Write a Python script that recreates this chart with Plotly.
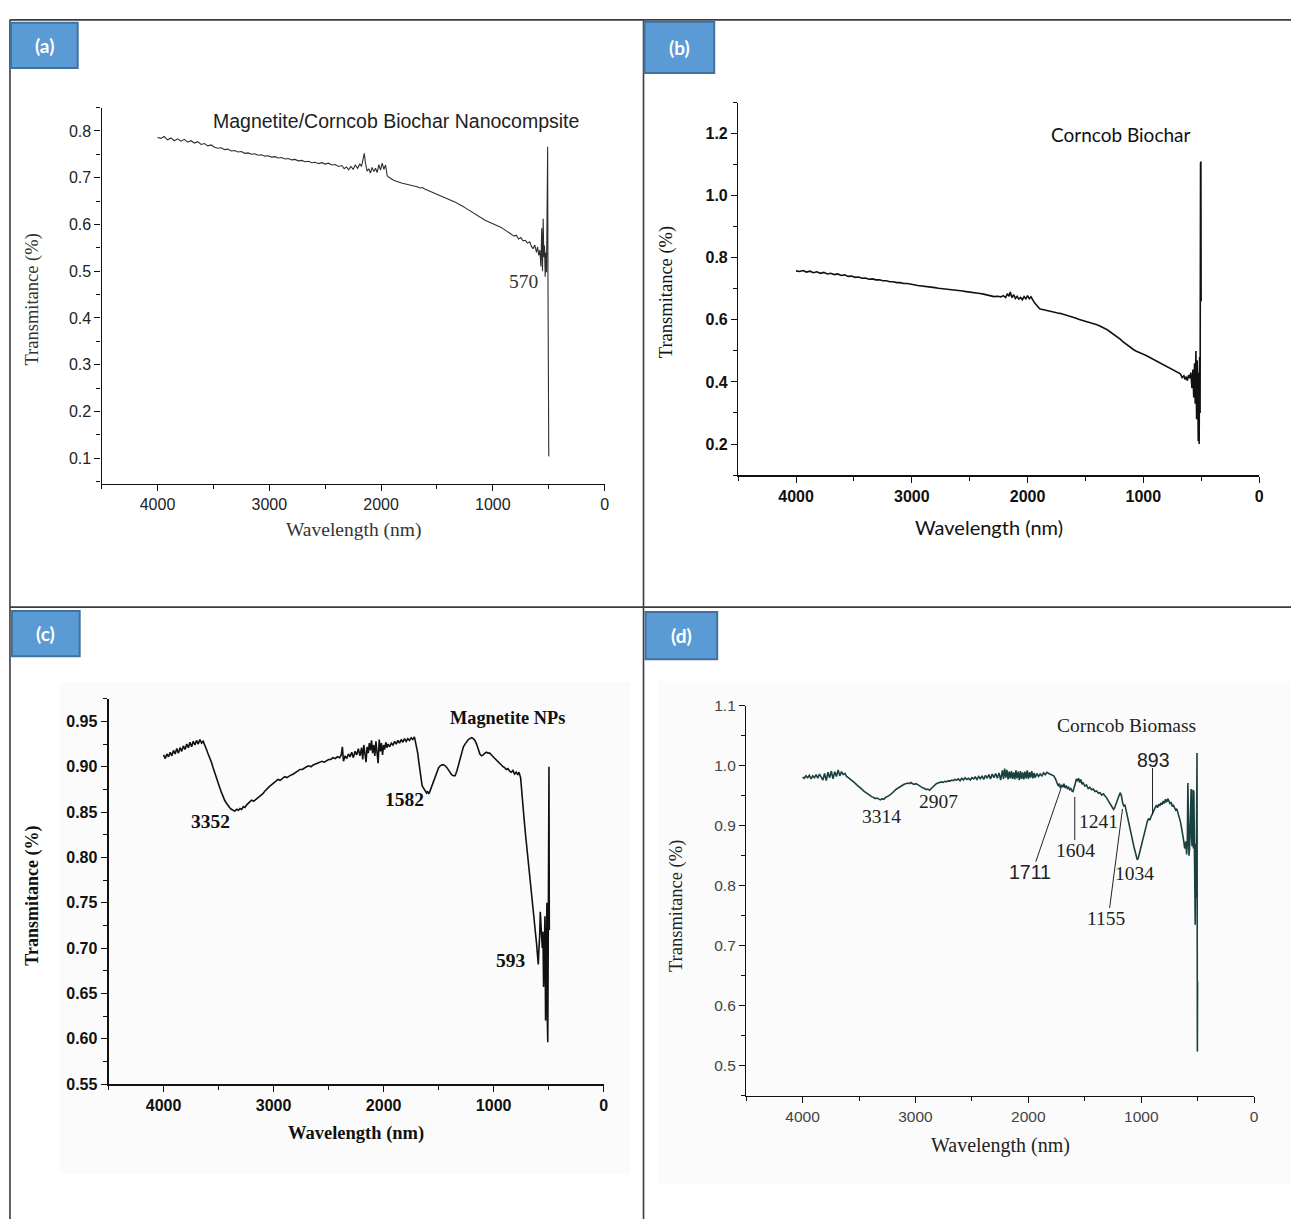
import plotly.graph_objects as go

W, H = 1296, 1228

# ---------------- data ----------------
A_WAVE = [4000,3970,3940,3910,3880,3850,3820,3790,3760,3730,3700,3670,3640,3610,3580,3550,3520,3490,3460,3430,3400,3370,3340,3310,3280,3250,3220,3190,3160,3130,3100,3070,3040,3010,2980,2950,2920,2890,2860,2830,2800,2770,2740,2710,2680,2650,2620,2590,2560,2530,2500,2470,2440,2410,2380,2350,2330,2310,2290,2270,2250,2230,2210,2190,2175,2160,2150,2140,2125,2110,2095,2080,2065,2050,2035,2020,2005,1990,1975,1960,1945,1930,1910,1890,1870,1850,1830,1810,1790,1770,1750,1730,1710,1690,1670,1650,1630,1610,1590,1570,1550,1530,1510,1490,1470,1450,1430,1410,1390,1370,1350,1330,1310,1290,1270,1250,1230,1210,1190,1170,1150,1130,1110,1090,1070,1050,1030,1010,990,970,950,930,910,890,870,850,830,810,790,770,750,730,710,690,670,655,640,625,610,600,590,580,570,563,556,550,544,538,532,526,520,515,510,507,504,500,496]
A_TRANS = [0.786,0.784,0.788,0.781,0.785,0.779,0.783,0.778,0.782,0.776,0.779,0.774,0.777,0.771,0.773,0.768,0.770,0.765,0.763,0.764,0.760,0.761,0.757,0.758,0.755,0.756,0.752,0.753,0.750,0.751,0.748,0.749,0.746,0.747,0.744,0.745,0.742,0.743,0.740,0.741,0.738,0.739,0.736,0.737,0.734,0.735,0.732,0.733,0.730,0.732,0.729,0.731,0.727,0.728,0.724,0.726,0.719,0.723,0.717,0.724,0.718,0.727,0.720,0.729,0.724,0.740,0.752,0.731,0.714,0.719,0.710,0.722,0.713,0.720,0.711,0.728,0.716,0.731,0.718,0.727,0.704,0.701,0.697,0.695,0.693,0.691,0.690,0.688,0.687,0.686,0.684,0.683,0.682,0.681,0.680,0.678,0.679,0.676,0.674,0.672,0.669,0.667,0.665,0.663,0.662,0.660,0.658,0.656,0.654,0.652,0.649,0.647,0.644,0.642,0.639,0.636,0.633,0.630,0.627,0.624,0.621,0.618,0.614,0.611,0.609,0.607,0.605,0.603,0.601,0.599,0.596,0.594,0.591,0.588,0.585,0.582,0.578,0.575,0.577,0.569,0.572,0.565,0.566,0.560,0.563,0.553,0.548,0.556,0.540,0.552,0.534,0.545,0.510,0.592,0.500,0.612,0.530,0.555,0.488,0.540,0.498,0.690,0.766,0.480,0.385,0.104,0.106]

B_WAVE = [4000,3970,3940,3910,3880,3850,3820,3790,3760,3730,3700,3670,3640,3610,3580,3550,3520,3490,3460,3430,3400,3370,3340,3310,3280,3250,3220,3190,3160,3130,3100,3070,3040,3010,2980,2950,2920,2890,2860,2830,2800,2770,2740,2710,2680,2650,2620,2590,2560,2530,2500,2470,2440,2410,2380,2350,2320,2290,2260,2230,2210,2190,2175,2160,2150,2135,2120,2105,2090,2075,2060,2045,2030,2015,2000,1985,1970,1955,1940,1925,1910,1895,1880,1860,1840,1820,1800,1780,1760,1740,1720,1700,1680,1660,1640,1620,1600,1580,1560,1540,1520,1500,1480,1460,1440,1420,1400,1380,1360,1340,1320,1300,1280,1260,1240,1220,1200,1180,1160,1140,1120,1100,1080,1060,1040,1020,1000,980,960,940,920,900,880,860,840,820,800,780,760,740,720,700,680,665,650,640,630,620,610,600,590,580,572,565,558,552,546,540,535,530,526,522,518,514,510,506,503,501,500]
B_TRANS = [0.758,0.756,0.759,0.754,0.757,0.752,0.755,0.750,0.753,0.748,0.750,0.746,0.748,0.743,0.745,0.740,0.741,0.737,0.738,0.734,0.735,0.731,0.732,0.729,0.729,0.726,0.726,0.723,0.723,0.720,0.720,0.717,0.717,0.714,0.713,0.711,0.710,0.708,0.707,0.705,0.704,0.702,0.701,0.699,0.698,0.697,0.695,0.694,0.693,0.691,0.690,0.688,0.687,0.685,0.683,0.680,0.676,0.675,0.676,0.674,0.678,0.672,0.684,0.676,0.690,0.672,0.681,0.669,0.676,0.667,0.672,0.665,0.675,0.668,0.678,0.668,0.674,0.662,0.655,0.649,0.641,0.636,0.634,0.632,0.630,0.629,0.627,0.625,0.624,0.622,0.621,0.619,0.617,0.614,0.613,0.611,0.608,0.605,0.602,0.600,0.598,0.596,0.594,0.592,0.589,0.587,0.584,0.581,0.578,0.574,0.570,0.565,0.560,0.555,0.550,0.544,0.538,0.531,0.525,0.519,0.513,0.508,0.503,0.499,0.495,0.492,0.489,0.486,0.482,0.478,0.474,0.470,0.466,0.462,0.458,0.454,0.450,0.446,0.443,0.439,0.436,0.432,0.426,0.414,0.420,0.408,0.417,0.404,0.422,0.412,0.430,0.380,0.440,0.350,0.460,0.330,0.500,0.280,0.470,0.380,0.210,0.430,0.200,0.480,0.300,1.105,1.110,0.660,0.670]

C_WAVE = [4000,3985,3970,3955,3940,3925,3910,3895,3880,3865,3850,3835,3820,3805,3790,3775,3760,3745,3730,3715,3700,3685,3670,3655,3640,3625,3610,3595,3580,3565,3550,3535,3520,3505,3490,3475,3460,3445,3430,3415,3400,3385,3370,3352,3335,3320,3305,3290,3275,3260,3245,3230,3215,3200,3180,3160,3140,3120,3100,3080,3060,3040,3020,3000,2980,2960,2940,2920,2900,2880,2860,2840,2820,2800,2780,2760,2740,2720,2700,2680,2660,2640,2620,2600,2580,2560,2540,2520,2500,2480,2460,2440,2420,2400,2385,2375,2365,2350,2335,2320,2305,2290,2275,2260,2245,2230,2215,2200,2190,2180,2170,2160,2150,2140,2130,2120,2110,2100,2090,2080,2070,2060,2050,2040,2030,2020,2010,2000,1990,1980,1970,1960,1945,1930,1915,1900,1885,1870,1855,1840,1825,1810,1795,1780,1765,1750,1735,1720,1710,1700,1690,1680,1670,1660,1650,1640,1630,1620,1610,1600,1590,1582,1570,1560,1545,1530,1515,1500,1485,1470,1455,1440,1425,1410,1395,1380,1365,1350,1335,1320,1305,1290,1275,1260,1245,1230,1215,1200,1185,1170,1155,1140,1125,1110,1095,1080,1065,1050,1035,1020,1005,990,975,960,945,930,915,900,885,870,855,840,825,810,795,780,770,755,740,725,710,695,680,665,650,635,620,610,600,594,588,582,576,570,564,558,552,546,540,534,528,522,516,512,508,504,500,497,494]
C_TRANS = [0.913,0.909,0.914,0.911,0.916,0.912,0.918,0.914,0.920,0.915,0.921,0.917,0.923,0.919,0.925,0.921,0.927,0.922,0.928,0.924,0.929,0.925,0.930,0.926,0.928,0.924,0.919,0.914,0.910,0.905,0.899,0.893,0.887,0.882,0.877,0.872,0.867,0.863,0.860,0.857,0.855,0.853,0.852,0.851,0.853,0.852,0.854,0.853,0.856,0.855,0.858,0.860,0.862,0.863,0.862,0.864,0.866,0.867,0.870,0.873,0.876,0.878,0.880,0.882,0.883,0.886,0.885,0.887,0.889,0.888,0.890,0.891,0.892,0.894,0.895,0.897,0.897,0.899,0.900,0.901,0.900,0.902,0.903,0.904,0.905,0.906,0.905,0.907,0.908,0.908,0.910,0.909,0.911,0.910,0.913,0.922,0.906,0.912,0.909,0.914,0.911,0.916,0.910,0.917,0.913,0.920,0.912,0.921,0.908,0.924,0.916,0.905,0.922,0.915,0.926,0.918,0.929,0.915,0.924,0.912,0.928,0.918,0.904,0.930,0.917,0.926,0.913,0.924,0.919,0.927,0.921,0.925,0.922,0.926,0.924,0.928,0.925,0.929,0.926,0.930,0.927,0.931,0.928,0.931,0.929,0.932,0.930,0.933,0.928,0.923,0.915,0.905,0.894,0.885,0.879,0.877,0.875,0.873,0.871,0.873,0.870,0.872,0.876,0.880,0.885,0.890,0.895,0.899,0.901,0.902,0.902,0.901,0.899,0.896,0.893,0.891,0.890,0.890,0.895,0.902,0.910,0.917,0.922,0.925,0.928,0.930,0.931,0.932,0.931,0.929,0.925,0.920,0.914,0.912,0.913,0.915,0.916,0.915,0.915,0.913,0.911,0.910,0.908,0.905,0.903,0.902,0.900,0.899,0.897,0.898,0.895,0.894,0.896,0.892,0.894,0.891,0.894,0.888,0.870,0.845,0.825,0.807,0.790,0.775,0.760,0.740,0.720,0.705,0.690,0.682,0.700,0.712,0.740,0.725,0.712,0.700,0.718,0.657,0.690,0.735,0.620,0.700,0.750,0.620,0.596,0.700,0.760,0.900,0.720]

D_WAVE = [4000,3985,3970,3955,3940,3925,3910,3895,3880,3865,3850,3835,3820,3805,3790,3775,3760,3745,3730,3715,3700,3685,3670,3655,3640,3625,3610,3595,3580,3565,3550,3535,3520,3505,3490,3475,3460,3445,3430,3415,3400,3385,3370,3355,3340,3325,3310,3295,3280,3265,3250,3235,3220,3205,3190,3175,3160,3145,3130,3115,3100,3085,3070,3055,3040,3025,3010,2995,2980,2965,2950,2935,2920,2905,2890,2875,2860,2845,2830,2815,2800,2785,2770,2755,2740,2725,2710,2695,2680,2665,2650,2635,2620,2605,2590,2575,2560,2545,2530,2515,2500,2485,2470,2455,2440,2425,2410,2395,2380,2365,2350,2335,2320,2305,2290,2275,2260,2245,2230,2220,2210,2200,2190,2180,2170,2160,2150,2140,2130,2120,2110,2100,2090,2080,2070,2060,2050,2040,2030,2020,2010,2000,1990,1980,1970,1960,1950,1940,1925,1910,1895,1880,1865,1850,1835,1820,1805,1790,1775,1760,1745,1735,1725,1715,1705,1695,1685,1675,1665,1655,1645,1635,1625,1615,1605,1595,1585,1575,1565,1555,1545,1535,1525,1515,1500,1485,1470,1455,1440,1425,1410,1395,1380,1365,1350,1335,1320,1305,1290,1275,1260,1245,1235,1225,1215,1205,1195,1185,1175,1165,1155,1145,1135,1125,1115,1105,1095,1085,1075,1065,1055,1045,1035,1025,1015,1005,995,985,975,965,955,945,935,925,915,905,895,885,875,865,855,845,835,825,815,805,795,785,775,765,755,745,735,725,715,705,695,685,675,665,655,645,635,625,615,605,598,592,587,582,577,572,567,562,558,554,550,546,542,538,534,530,526,522,518,514,510,506,503,501]
D_TRANS = [0.981,0.979,0.983,0.980,0.984,0.978,0.983,0.980,0.985,0.979,0.986,0.982,0.976,0.987,0.975,0.989,0.980,0.991,0.978,0.990,0.982,0.993,0.983,0.990,0.985,0.987,0.982,0.980,0.978,0.976,0.973,0.971,0.968,0.966,0.963,0.961,0.958,0.956,0.953,0.951,0.949,0.948,0.947,0.945,0.946,0.944,0.943,0.945,0.944,0.947,0.948,0.950,0.952,0.955,0.957,0.960,0.962,0.964,0.966,0.967,0.969,0.970,0.971,0.970,0.972,0.970,0.969,0.970,0.968,0.966,0.965,0.963,0.962,0.960,0.961,0.959,0.962,0.965,0.968,0.970,0.971,0.972,0.973,0.972,0.974,0.973,0.975,0.974,0.976,0.975,0.977,0.976,0.978,0.975,0.979,0.976,0.980,0.977,0.979,0.976,0.980,0.978,0.981,0.977,0.982,0.978,0.983,0.977,0.984,0.979,0.985,0.978,0.986,0.980,0.987,0.979,0.988,0.976,0.992,0.978,0.995,0.980,0.993,0.977,0.990,0.979,0.991,0.978,0.989,0.977,0.992,0.979,0.990,0.976,0.991,0.978,0.989,0.977,0.990,0.979,0.992,0.978,0.989,0.980,0.991,0.979,0.988,0.980,0.987,0.982,0.986,0.983,0.988,0.985,0.989,0.987,0.986,0.984,0.983,0.978,0.972,0.966,0.970,0.962,0.968,0.964,0.970,0.963,0.967,0.962,0.964,0.960,0.962,0.958,0.957,0.962,0.970,0.978,0.974,0.979,0.972,0.977,0.969,0.972,0.966,0.968,0.962,0.964,0.960,0.961,0.957,0.958,0.954,0.955,0.951,0.953,0.950,0.946,0.941,0.936,0.931,0.927,0.930,0.936,0.942,0.947,0.951,0.955,0.949,0.938,0.933,0.935,0.927,0.918,0.910,0.901,0.892,0.883,0.874,0.865,0.856,0.848,0.843,0.847,0.855,0.862,0.870,0.878,0.887,0.896,0.903,0.908,0.912,0.909,0.914,0.919,0.922,0.927,0.931,0.934,0.930,0.936,0.933,0.938,0.935,0.941,0.937,0.944,0.939,0.945,0.940,0.937,0.939,0.932,0.934,0.929,0.926,0.928,0.922,0.916,0.908,0.899,0.890,0.876,0.862,0.874,0.852,0.870,0.971,0.880,0.850,0.862,0.905,0.955,0.961,0.880,0.866,0.870,0.960,0.862,0.958,0.850,0.790,0.735,0.870,0.780,0.900,1.021,0.524,0.640]

PANEL_LETTERS = ["(a)", "(b)", "(c)", "(d)"]
PANEL_NAMES = ["Magnetite/Corncob Biochar Nanocompsite", "Corncob Biochar", "Magnetite NPs", "Corncob Biomass"]
C_PEAKS = ["3352", "1582", "593"]
D_PEAKS = ["3314", "2907", "1711", "1604", "1241", "1155", "1034", "893"]
X_TITLE = "Wavelength (nm)"
Y_TITLE = "Transmitance (%)"

for xs, ys in [(A_WAVE, A_TRANS), (B_WAVE, B_TRANS), (C_WAVE, C_TRANS), (D_WAVE, D_TRANS)]:
    assert len(xs) == len(ys), (len(xs), len(ys))

# ---------------- helpers ----------------
def PX(x):
    return x / W

def PY(y):
    return 1 - y / H

SANS = "Liberation Sans, Arial, sans-serif"
SERIF = "Liberation Serif, Times New Roman, serif"
CAL = "Lato, Open Sans, sans-serif"

fig = go.Figure()
series = [
    (A_WAVE, A_TRANS, "x", "y", "#2e2e2e", 1.1),
    (B_WAVE, B_TRANS, "x2", "y2", "#111111", 1.6),
    (C_WAVE, C_TRANS, "x3", "y3", "#111111", 1.6),
    (D_WAVE, D_TRANS, "x4", "y4", "#1a4040", 1.6),
]
for xs, ys, xa, ya, col, lw in series:
    fig.add_trace(go.Scatter(x=xs, y=ys, mode="lines", line=dict(color=col, width=lw),
                             xaxis=xa, yaxis=ya, showlegend=False, hoverinfo="skip"))


def xax(px0, px1, anchor, tickfont, lw=1.4):
    return dict(domain=[PX(px0), PX(px1)], anchor=anchor, range=[4500, 0], autorange=False,
                tickmode="linear", tick0=0, dtick=1000, ticks="outside", ticklen=6, tickwidth=1.3,
                tickcolor="#111", showline=True, linecolor="#111", linewidth=lw, showgrid=False,
                zeroline=False, tickfont=tickfont,
                minor=dict(ticks="outside", ticklen=4, tickwidth=1.1, tickcolor="#111",
                           tick0=0, dtick=500, showgrid=False))


def yax(py_top, py_bot, anchor, rng, dtick, tick0, fmt, mdt, tickfont, lw=1.4):
    return dict(domain=[PY(py_bot), PY(py_top)], anchor=anchor, range=rng, autorange=False,
                tickmode="linear", tick0=tick0, dtick=dtick, tickformat=fmt, ticks="outside",
                ticklen=6, tickwidth=1.3, tickcolor="#111", showline=True, linecolor="#111",
                linewidth=lw, showgrid=False, zeroline=False, tickfont=tickfont,
                minor=dict(ticks="outside", ticklen=4, tickwidth=1.1, tickcolor="#111",
                           tick0=tick0, dtick=mdt, showgrid=False))


tf_a = dict(family=SANS, size=16, color="#222")
tf_b = dict(family=SANS, size=16, color="#111", weight="bold")
tf_c = dict(family=SANS, size=16, color="#111", weight="bold")
tf_d = dict(family=SANS, size=15.5, color="#444")

layout = dict(
    width=W, height=H, margin=dict(l=0, r=0, t=0, b=0),
    paper_bgcolor="white", plot_bgcolor="rgba(0,0,0,0)", showlegend=False,
    xaxis=xax(102, 607, "y", tf_a),
    yaxis=yax(100, 482, "x", [0.045, 0.85], 0.1, 0.1, ".1f", 0.05, tf_a),
    xaxis2=xax(741, 1264, "y2", tf_b, lw=2.2),
    yaxis2=yax(95, 473, "x2", [0.1, 1.3], 0.2, 0.2, ".1f", 0.1, tf_b),
    xaxis3=xax(109, 606, "y3", tf_c, lw=2.0),
    yaxis3=yax(700, 1091, "x3", [0.55, 0.975], 0.05, 0.55, ".2f", 0.025, tf_c, lw=2.0),
    xaxis4=xax(749, 1259, "y4", tf_d),
    yaxis4=yax(707, 1103, "x4", [0.45, 1.1], 0.1, 0.5, ".1f", 0.05, tf_d),
)

shapes = []
# very faint backdrops of the scanned figures (c) and (d)
for x0, y0, x1, y1 in [(60, 683, 633, 1182), (660, 682, 1296, 1193)]:
    shapes.append(dict(type="rect", xref="paper", yref="paper", x0=PX(x0), x1=PX(x1),
                       y0=PY(y1), y1=PY(y0), fillcolor="#fbfbfb", line=dict(width=0), layer="below"))
# table borders
border = dict(color="#3c3c3c", width=1.6)
shapes += [
    dict(type="line", xref="paper", yref="paper", x0=PX(10), x1=1, y0=PY(11), y1=PY(11), line=border),
    dict(type="line", xref="paper", yref="paper", x0=PX(10), x1=1, y0=PY(607), y1=PY(607), line=border),
    dict(type="line", xref="paper", yref="paper", x0=PX(10), x1=PX(10), y0=0, y1=PY(11), line=border),
    dict(type="line", xref="paper", yref="paper", x0=PX(646), x1=PX(646), y0=0, y1=PY(11), line=border),
]
# panel letter boxes
boxes = [(11, 14, 78, 60), (647, 13, 717, 65), (12, 611, 80, 657), (648, 612, 720, 660)]
annotations = []
for (x0, y0, x1, y1), letter in zip(boxes, PANEL_LETTERS):
    shapes.append(dict(type="rect", xref="paper", yref="paper", x0=PX(x0), x1=PX(x1),
                       y0=PY(y1), y1=PY(y0), fillcolor="#5b9bd5", line=dict(color="#41719c", width=2)))
    annotations.append(dict(xref="paper", yref="paper", x=PX((x0 + x1) / 2), y=PY((y0 + y1) / 2),
                            text=letter, showarrow=False, xanchor="center", yanchor="middle",
                            font=dict(family=CAL, size=19, color="white", weight="bold")))

# leader lines in panel (d)
lead = dict(color="#222", width=1)
for (xa, ya, xb, yb) in [(1713, 0.961, 1934, 0.840), (1589, 0.948, 1589, 0.876),
                         (900, 0.996, 900, 0.918), (1166, 0.928, 1280, 0.763)]:
    shapes.append(dict(type="line", xref="x4", yref="y4", x0=xa, x1=xb, y0=ya, y1=yb, line=lead))


def ann(x, y, text, xref="paper", yref="paper", font=None, angle=0):
    annotations.append(dict(x=x, y=y, xref=xref, yref=yref, text=text, showarrow=False,
                            xanchor="center", yanchor="middle", textangle=angle, font=font))


# axis titles
ann(PX(355), PY(529), X_TITLE, font=dict(family=SERIF, size=19.5, color="#333"))
ann(PX(33), PY(295), Y_TITLE, font=dict(family=SERIF, size=18.5, color="#333"), angle=-90)
ann(PX(993), PY(526), X_TITLE, font=dict(family=CAL, size=20, color="#111"))
ann(PX(669), PY(287), Y_TITLE, font=dict(family=SERIF, size=18.5, color="#111"), angle=-90)
ann(PX(357), PY(1141), X_TITLE, font=dict(family=SERIF, size=18.5, color="#111", weight="bold"))
ann(PX(33), PY(900), Y_TITLE, font=dict(family=SERIF, size=18, color="#111", weight="bold"), angle=-90)
ann(PX(1004), PY(1153), X_TITLE, font=dict(family=SERIF, size=20, color="#222"))
ann(PX(679), PY(910), Y_TITLE, font=dict(family=SERIF, size=18.5, color="#222"), angle=-90)

# panel names
ann(1866, 0.821, PANEL_NAMES[0], "x", "y", dict(family=SANS, size=19.5, color="#222"))
ann(1190, 1.197, PANEL_NAMES[1], "x2", "y2", dict(family=CAL, size=19, color="#111"))
ann(877, 0.954, PANEL_NAMES[2], "x3", "y3", dict(family=SERIF, size=18.3, color="#111", weight="bold"))
ann(1130, 1.067, PANEL_NAMES[3], "x4", "y4", dict(family=SERIF, size=19.5, color="#222"))

# peak labels
ann(723, 0.477, "570", "x", "y", dict(family=SERIF, size=19.5, color="#333"))
cfont = dict(family=SERIF, size=19.5, color="#111", weight="bold")
for t, (x, y) in zip(C_PEAKS, [(3573, 0.840), (1813, 0.864), (842, 0.686)]):
    ann(x, y, t, "x3", "y3", cfont)
dpos = [(3302, 0.915), (2799, 0.940), (1987, 0.823), (1581, 0.859), (1378, 0.907),
        (1316, 0.745), (1060, 0.821), (892, 1.009)]
for t, (x, y) in zip(D_PEAKS, dpos):
    fam = SANS if t in ("893", "1711") else SERIF
    ann(x, y, t, "x4", "y4", dict(family=fam, size=19.5, color="#222"))

layout["shapes"] = shapes
layout["annotations"] = annotations
fig.update_layout(**layout)
fig.write_html("out.html", config={"displayModeBar": False},
               post_script="document.body.style.margin='0';document.body.style.overflow='hidden';")
